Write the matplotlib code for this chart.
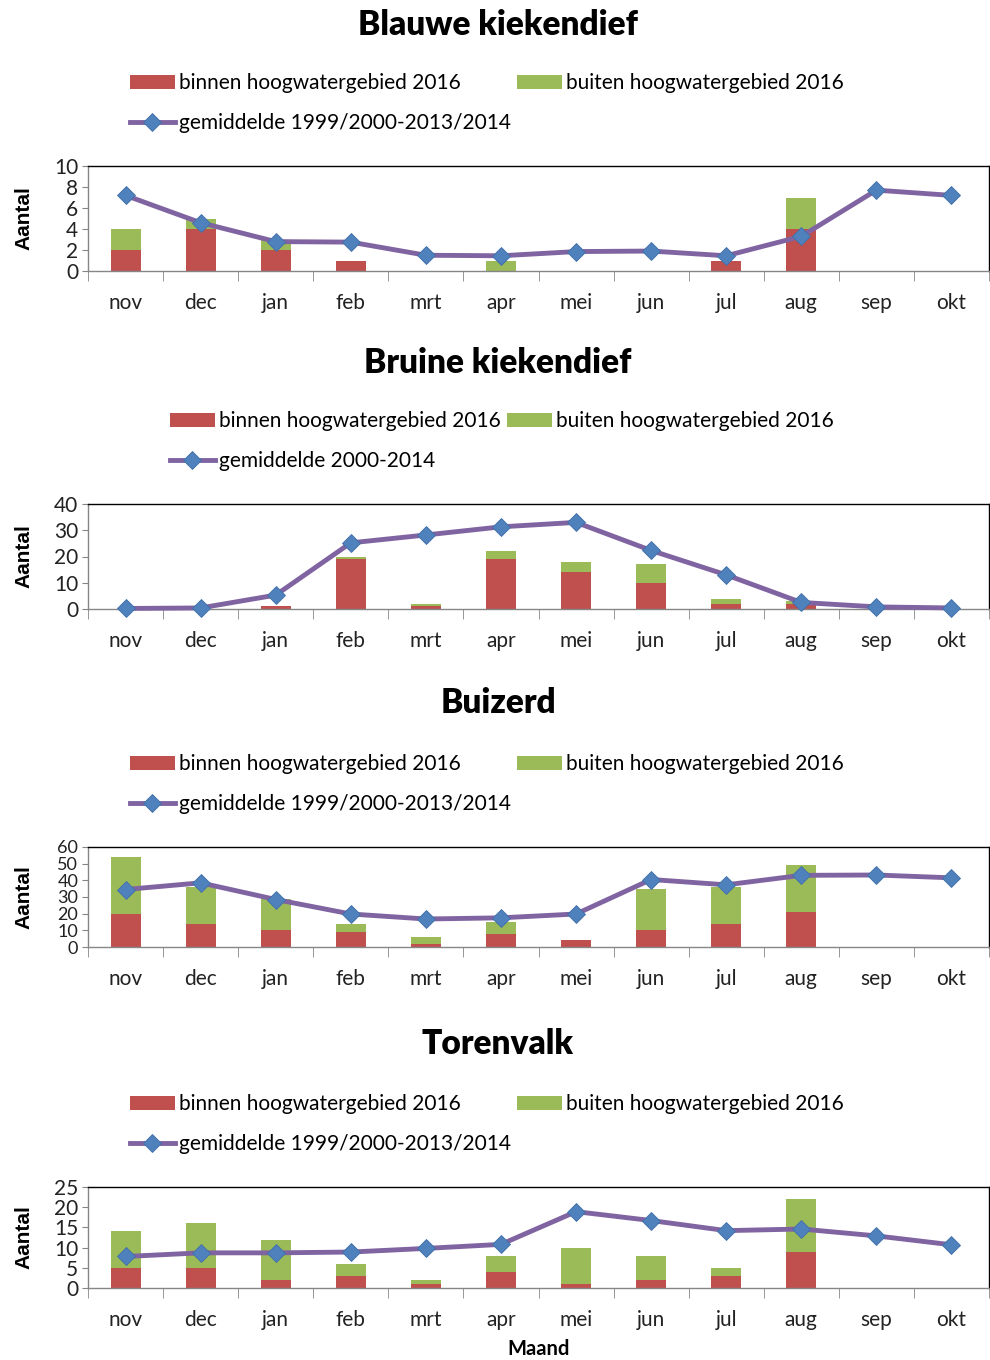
"""
Maandelijkse aantallen roofvogels, binnen en buiten hoogwatergebied (2016).
"""

import matplotlib.pyplot as plt
from matplotlib.lines import Line2D
from matplotlib.patches import Patch

MONTHS = ["nov", "dec", "jan", "feb", "mrt", "apr", "mei", "jun", "jul", "aug", "sep", "okt"]

# Blauwe kiekendief
BLAUW_BINNEN = [2, 4, 2, 1, 0, 0, 0, 0, 1, 4, 0, 0]
BLAUW_BUITEN = [2, 1, 1, 0, 0, 1, 0, 0, 0, 3, 0, 0]
BLAUW_GEM = [7.2, 4.6, 2.8, 2.75, 1.5, 1.45, 1.85, 1.9, 1.45, 3.3, 7.7, 7.2]

# Bruine kiekendief
BRUIN_BINNEN = [0, 0, 1, 19, 1, 19, 14, 10, 2, 2, 0, 0]
BRUIN_BUITEN = [0, 0, 0, 1, 1, 3, 4, 7, 2, 1, 0, 0]
BRUIN_GEM = [0.2, 0.4, 5.3, 25.2, 28.2, 31.3, 33.0, 22.3, 13.0, 2.5, 0.8, 0.4]

# Buizerd
BUIZERD_BINNEN = [20, 14, 10, 9, 2, 8, 4, 10, 14, 21, 0, 0]
BUIZERD_BUITEN = [34, 22, 19, 5, 4, 7, 0, 25, 22, 28, 0, 0]
BUIZERD_GEM = [34.5, 38.5, 28.5, 19.8, 16.8, 17.5, 19.8, 40.5, 37.3, 43.0, 43.2, 41.5]

# Torenvalk
TOREN_BINNEN = [5, 5, 2, 3, 1, 4, 1, 2, 3, 9, 0, 0]
TOREN_BUITEN = [9, 11, 10, 3, 1, 4, 9, 6, 2, 13, 0, 0]
TOREN_GEM = [7.8, 8.7, 8.7, 8.9, 9.8, 10.8, 18.9, 16.7, 14.2, 14.6, 12.9, 10.7]

RED = "#C0504D"
GREEN = "#9BBB59"
PURPLE = "#8064A2"
BLUE = "#4F81BD"
GRAY = "#868686"

FONT = "Lato"
W, H = 990, 1360

# (title, binnen, buiten, gem, gem label, ymax, ystep, ytick size,
#  title y, legend x, legend y, axes top px, axes bottom px)
PANELS = [
    ("Blauwe kiekendief", BLAUW_BINNEN, BLAUW_BUITEN, BLAUW_GEM,
     "gemiddelde 1999/2000-2013/2014", 10, 2, 15, 25, 130, 103, 166, 271),
    ("Bruine kiekendief", BRUIN_BINNEN, BRUIN_BUITEN, BRUIN_GEM,
     "gemiddelde 2000-2014", 40, 10, 15, 363, 170, 441, 504, 609),
    ("Buizerd", BUIZERD_BINNEN, BUIZERD_BUITEN, BUIZERD_GEM,
     "gemiddelde 1999/2000-2013/2014", 60, 10, 13, 703, 130, 784, 847, 947),
    ("Torenvalk", TOREN_BINNEN, TOREN_BUITEN, TOREN_GEM,
     "gemiddelde 1999/2000-2013/2014", 25, 5, 15, 1044, 130, 1124, 1187, 1288),
]


def draw_panel(fig, cfg, last):
    (title, binnen, buiten, gem, gem_label, ymax, ystep, ysize,
     ty, lx, ly, top, bottom) = cfg
    left_px, right_px = 88, 989
    ax = fig.add_axes([left_px / W, 1 - bottom / H,
                       (right_px - left_px) / W, (bottom - top) / H])
    x = list(range(len(MONTHS)))
    ax.bar(x, binnen, width=0.4, color=RED, zorder=2)
    ax.bar(x, buiten, width=0.4, bottom=binnen, color=GREEN, zorder=2)
    ax.plot(x, gem, color=PURPLE, linewidth=3.5, marker="D", markersize=9.5,
            markerfacecolor=BLUE, markeredgecolor="#3F6FA8", markeredgewidth=0.6,
            zorder=3, clip_on=False)

    ax.set_xlim(-0.5, len(MONTHS) - 0.5)
    ax.set_ylim(0, ymax)
    ax.set_yticks(range(0, ymax + 1, ystep))
    ax.set_xticks(x)
    ax.set_xticklabels(MONTHS)
    ax.set_xticks([i - 0.5 for i in range(len(MONTHS) + 1)], minor=True)
    ax.tick_params(axis="x", which="major", length=0, pad=16, labelsize=15)
    ax.tick_params(axis="x", which="minor", length=7, color=GRAY, direction="out")
    ax.tick_params(axis="y", length=4, color=GRAY, labelsize=ysize, pad=3)
    for lab in ax.get_xticklabels() + ax.get_yticklabels():
        lab.set_fontfamily(FONT)
        lab.set_color("#222222")
    for side in ("top", "right"):
        ax.spines[side].set_color("black")
        ax.spines[side].set_linewidth(1.0)
    for side in ("left", "bottom"):
        ax.spines[side].set_color(GRAY)
        ax.spines[side].set_linewidth(1.0)

    ax.set_ylabel("Aantal", fontsize=15, fontweight="bold",
                  fontfamily="Liberation Sans")
    ax.yaxis.set_label_coords(-0.06, 0.5)
    if last:
        ax.set_xlabel("Maand", fontsize=14.5, fontweight="bold",
                      fontfamily=FONT, labelpad=6)

    fig.text(498 / W, 1 - ty / H, title, ha="center", va="center",
             fontsize=24, fontweight="heavy", fontfamily=FONT)

    handles = [
        Patch(facecolor=RED, label="binnen hoogwatergebied 2016"),
        Line2D([], [], color=PURPLE, linewidth=3.5, marker="D", markersize=9.5,
               markerfacecolor=BLUE, markeredgecolor="#3F6FA8",
               markeredgewidth=0.6, label=gem_label),
        Patch(facecolor=GREEN, label="buiten hoogwatergebied 2016"),
    ]
    fig.legend(handles=handles, ncol=2, loc="center left",
               bbox_to_anchor=(lx / W, 1 - ly / H), frameon=False,
               borderpad=0, borderaxespad=0, handlelength=2.15,
               handleheight=0.7, handletextpad=0.2, columnspacing=0.3,
               labelspacing=0.95, prop={"family": FONT, "size": 15})


def main():
    fig = plt.figure(figsize=(W / 100, H / 100), dpi=100)
    for i, cfg in enumerate(PANELS):
        draw_panel(fig, cfg, i == len(PANELS) - 1)
    fig.savefig("out.png", dpi=100)


if __name__ == "__main__":
    main()
